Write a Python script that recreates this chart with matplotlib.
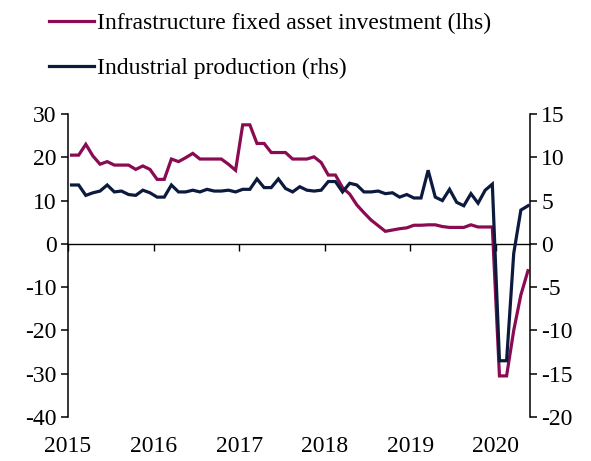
"""
Infrastructure FAI vs industrial production, dual axis line chart.
"""

import numpy as np
import matplotlib.pyplot as plt
from matplotlib.transforms import blended_transform_factory

plt.rcParams['font.family'] = ['Liberation Serif', 'DejaVu Serif']
plt.rcParams['axes.unicode_minus'] = False

# monthly data, Jan 2015 .. May 2020
start_year = 2015
infra_fai = [
    20.5, 20.5, 23.0, 20.3, 18.4, 19.0, 18.2, 18.2, 18.2, 17.2, 18.0, 17.2,   # 2015
    14.9, 14.9, 19.6, 19.0, 19.9, 20.9, 19.6, 19.6, 19.6, 19.6, 18.4, 17.0,   # 2016
    27.5, 27.5, 23.2, 23.2, 21.1, 21.1, 21.1, 19.6, 19.6, 19.6, 20.1, 18.8,   # 2017
    15.9, 15.9, 13.0, 11.5, 9.0, 7.2, 5.5, 4.2, 2.9, 3.2, 3.5, 3.7,           # 2018
    4.3, 4.3, 4.4, 4.4, 4.0, 3.8, 3.8, 3.8, 4.4, 3.9, 3.9, 3.9,               # 2019
    -30.5, -30.5, -20.0, -11.8, -6.2,                                          # 2020
]
ind_prod = [
    6.8, 6.8, 5.6, 5.9, 6.1, 6.8, 6.0, 6.1, 5.7, 5.6, 6.2, 5.9,
    5.4, 5.4, 6.8, 6.0, 6.0, 6.2, 6.0, 6.3, 6.1, 6.1, 6.2, 6.0,
    6.3, 6.3, 7.5, 6.5, 6.5, 7.5, 6.4, 6.0, 6.6, 6.2, 6.1, 6.2,
    7.2, 7.2, 6.0, 7.0, 6.8, 6.0, 6.0, 6.1, 5.8, 5.9, 5.4, 5.7,
    5.3, 5.3, 8.5, 5.4, 5.0, 6.3, 4.8, 4.4, 5.8, 4.7, 6.2, 6.9,
    -13.5, -13.5, -1.1, 3.9, 4.4,
]
years = [2015, 2016, 2017, 2018, 2019, 2020]
left_ticks = [30, 20, 10, 0, -10, -20, -30, -40]
right_ticks = [15, 10, 5, 0, -5, -10, -15, -20]
labels = ['Infrastructure fixed asset investment (lhs)', 'Industrial production (rhs)']

pink = '#8a0b52'
navy = '#0b1a3d'
fs = 17

# mid-month positions on a fractional-year axis
x = start_year + (np.arange(len(infra_fai)) + 0.5) / 12.0

fig = plt.figure(figsize=(5.91, 4.61), dpi=100)
ax = fig.add_axes([0.115, 0.0954, 0.782, 0.6573])
ax2 = ax.twinx()

l1, = ax.plot(x, infra_fai, color=pink, lw=2.3, solid_joinstyle='miter', zorder=3)
l2, = ax2.plot(x, ind_prod, color=navy, lw=2.3, solid_joinstyle='miter', zorder=3)

ax.set_xlim(2015, 2020.40)
ax.set_ylim(-40, 30)
ax2.set_ylim(-20, 15)
ax.set_yticks(left_ticks)
ax2.set_yticks(right_ticks)

for a in (ax, ax2):
    a.spines['top'].set_visible(False)
    for s in a.spines.values():
        s.set_linewidth(1.1)
    a.tick_params(axis='y', direction='out', length=5, width=1.1, labelsize=fs, pad=3)
ax.spines['right'].set_visible(False)
ax2.spines['left'].set_visible(False)
ax2.spines['bottom'].set_visible(False)

# x axis line sits at zero, labels at the bottom
ax.spines['bottom'].set_position(('data', 0))
ax.spines['bottom'].set_linewidth(1.0)
ax.set_xticks(years)
ax.set_xticklabels([])
ax.tick_params(axis='x', direction='out', length=5, width=1.0)
trans = blended_transform_factory(ax.transData, ax.transAxes)
for yr in years:
    ax.text(yr, -0.062, str(yr), transform=trans, ha='center', va='top', fontsize=fs)

fig.legend([l1, l2], labels, loc='upper left', bbox_to_anchor=(0.075, 0.983),
           frameon=False, fontsize=fs, handlelength=1.9, handletextpad=0.12,
           labelspacing=1.0, borderpad=0.2, borderaxespad=0.0)

fig.savefig('out.png', dpi=100)
